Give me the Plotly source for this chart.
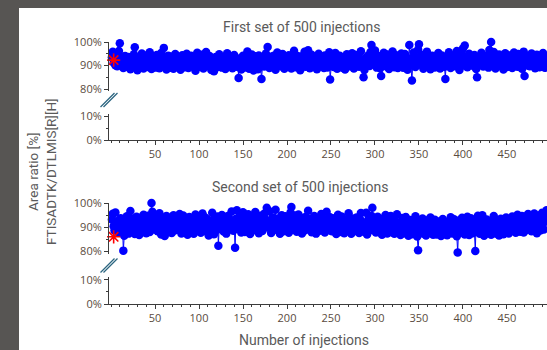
import plotly.graph_objects as go

# ---------------- data ----------------
injections = list(range(1, 501))

first_set = [
    93.5, 95.8, 91.2, 94.6, 90.1, 92.8, 89.7, 93.9, 96.2, 99.5, 91.4, 90.6, 93.1, 88.9, 92.5, 94.0, 90.8, 89.5, 91.9, 93.6, 90.2, 88.4, 92.7, 91.1, 89.9,
    94.8, 97.8, 92.3, 90.5, 88.0, 91.7, 93.4, 89.2, 90.9, 95.1, 92.0, 88.7, 91.5, 94.3, 90.0, 92.9, 89.4, 91.3, 95.6, 90.7, 88.5, 92.2, 93.8, 90.3, 89.1,
    91.8, 94.5, 90.4, 92.6, 88.8, 93.2, 95.3, 91.0, 89.6, 97.5, 92.4, 90.2, 88.3, 91.6, 94.2, 90.9, 92.1, 89.0, 93.7, 91.3, 88.6, 90.5, 94.9, 92.8, 89.8,
    91.2, 93.5, 90.6, 88.2, 92.0, 94.4, 90.1, 91.7, 89.3, 93.0, 95.0, 91.4, 88.9, 90.8, 92.5, 94.1, 89.7, 91.0, 93.3, 90.4, 87.8, 92.3, 95.4, 91.1, 89.5,
    92.7, 90.3, 94.6, 91.5, 88.7, 90.0, 93.1, 95.7, 92.2, 89.9, 91.3, 94.0, 90.7, 88.1, 92.9, 91.8, 87.6, 90.5, 93.6, 92.1, 89.4, 91.0, 94.8, 90.6, 92.4,
    89.1, 91.9, 93.4, 90.2, 88.5, 92.6, 95.2, 91.2, 89.8, 90.9, 93.8, 92.0, 88.8, 91.4, 94.5, 90.1, 92.8, 89.5, 91.7, 84.7, 93.0, 90.4, 88.3, 92.3, 94.1,
    91.6, 89.2, 90.8, 93.5, 96.0, 92.5, 88.6, 90.3, 91.9, 94.7, 89.9, 87.9, 92.2, 93.9, 90.6, 91.1, 88.4, 94.3, 92.7, 90.0, 84.3, 91.5, 93.2, 89.6, 92.9,
    95.1, 90.7, 97.9, 91.3, 88.9, 93.7, 92.1, 89.4, 90.5, 94.2, 91.8, 88.2, 92.4, 95.5, 90.2, 91.0, 93.3, 89.7, 92.6, 94.9, 90.8, 88.6, 91.6, 93.1, 89.8,
    92.0, 94.4, 90.4, 91.9, 88.7, 93.6, 92.3, 96.3, 90.1, 89.3, 91.4, 94.0, 92.8, 90.6, 88.0, 91.7, 93.9, 90.9, 92.2, 95.8, 89.5, 91.2, 93.5, 96.5, 90.3,
    88.8, 92.5, 94.6, 91.1, 89.9, 90.7, 93.0, 92.1, 88.4, 91.5, 95.0, 90.0, 92.7, 89.6, 93.8, 91.3, 88.9, 94.3, 90.5, 92.0, 89.2, 91.8, 95.6, 84.0, 90.2,
    92.9, 91.0, 89.4, 93.4, 95.3, 90.8, 88.6, 92.3, 91.6, 94.1, 90.1, 92.6, 89.0, 93.2, 91.9, 88.3, 90.6, 94.8, 92.4, 91.2, 89.7, 93.7, 90.4, 95.2, 91.4,
    88.7, 92.1, 94.5, 90.9, 91.7, 93.9, 89.5, 92.8, 96.1, 90.3, 91.1, 85.0, 88.1, 93.1, 92.5, 90.0, 94.2, 91.5, 89.8, 95.7, 98.7, 92.2, 90.7, 93.6, 96.4,
    91.3, 89.1, 92.7, 94.0, 90.5, 88.8, 85.5, 93.3, 91.8, 95.4, 90.2, 92.0, 89.6, 94.7, 91.0, 88.5, 92.9, 93.5, 90.8, 96.0, 91.6, 89.3, 92.4, 94.4, 90.1,
    88.9, 93.8, 91.2, 90.6, 95.1, 92.3, 89.0, 91.9, 94.9, 90.4, 92.6, 88.2, 91.4, 98.7, 93.0, 90.0, 83.6, 92.1, 95.5, 91.7, 89.4, 93.4, 90.9, 96.8, 99.0,
    92.8, 90.3, 94.6, 91.1, 88.6, 93.2, 92.0, 89.8, 95.9, 91.5, 90.7, 93.6, 88.4, 92.5, 94.1, 90.2, 91.8, 89.2, 93.9, 92.2, 90.5, 95.3, 91.0, 88.7, 92.7,
    94.3, 90.8, 91.6, 89.5, 84.3, 92.4, 93.7, 90.1, 95.6, 91.3, 88.9, 92.9, 94.0, 90.6, 91.9, 89.7, 93.1, 96.2, 92.0, 90.4, 88.1, 91.7, 94.8, 92.3, 97.2,
    90.0, 98.5, 93.5, 91.4, 89.3, 92.6, 95.0, 90.9, 91.2, 93.8, 89.9, 92.1, 94.5, 90.3, 88.5, 85.0, 91.8, 93.3, 90.7, 92.8, 95.4, 91.0, 89.6, 93.0, 90.2,
    92.5, 94.2, 91.5, 89.1, 96.6, 93.4, 100.0, 90.6, 92.2, 95.7, 91.1, 88.7, 93.9, 90.4, 92.0, 94.7, 89.8, 91.6, 93.2, 90.1, 88.3, 92.7, 95.2, 91.3, 89.4,
    93.6, 91.9, 90.5, 94.4, 92.4, 88.9, 91.0, 95.5, 90.8, 93.1, 92.3, 89.5, 94.9, 91.7, 90.2, 93.7, 88.6, 92.9, 95.9, 85.5, 91.4, 93.0, 90.0, 94.1, 92.6,
    89.7, 91.2, 95.1, 90.4, 92.8, 93.8, 88.8, 91.5, 94.6, 90.9, 92.1, 89.3, 93.4, 91.8, 90.6, 95.3, 92.0, 89.0, 93.5, 91.1, 90.3, 94.0, 92.4, 89.9, 91.6,
]

second_set = [
    93.2, 95.6, 90.4, 88.7, 96.1, 91.8, 89.5, 92.6, 87.9, 90.9, 93.7, 88.3, 91.2, 80.4, 86.5, 92.0, 89.8, 94.5, 90.6, 87.4, 92.9, 96.7, 91.3, 88.9, 93.6,
    90.1, 87.2, 91.7, 94.3, 89.4, 92.4, 86.8, 90.7, 93.9, 88.5, 91.0, 95.2, 89.9, 92.8, 87.6, 90.3, 94.8, 91.5, 88.1, 92.2, 100.0, 96.4, 90.8, 93.5, 89.1,
    94.1, 91.6, 88.4, 92.7, 95.8, 90.2, 87.0, 91.9, 93.3, 89.6, 86.4, 92.1, 94.6, 90.5, 88.0, 91.4, 93.8, 89.2, 87.7, 92.5, 95.0, 90.0, 88.8, 91.1, 93.0,
    89.3, 92.3, 95.5, 90.9, 87.5, 93.1, 94.9, 91.7, 88.6, 90.4, 92.9, 86.9, 89.7, 94.2, 91.2, 88.2, 93.6, 90.6, 87.3, 92.0, 95.3, 89.9, 91.5, 88.7, 93.4,
    90.8, 87.8, 92.7, 95.7, 89.0, 91.3, 94.0, 88.4, 90.2, 93.2, 86.6, 91.9, 89.5, 92.4, 96.0, 90.1, 87.1, 93.7, 91.0, 88.9, 94.4, 82.4, 90.7, 92.6, 89.4,
    95.1, 91.6, 88.3, 93.0, 90.3, 87.4, 92.1, 94.7, 90.0, 89.2, 91.8, 96.5, 92.8, 88.6, 90.9, 81.6, 93.5, 97.0, 91.4, 89.8, 94.1, 90.5, 87.9, 92.3, 96.2,
    91.1, 88.1, 93.9, 90.6, 92.5, 95.4, 89.3, 87.2, 91.7, 94.3, 90.4, 88.8, 92.9, 96.3, 91.2, 89.6, 93.3, 87.6, 90.1, 94.8, 92.2, 88.5, 91.0, 95.6, 90.7,
    93.1, 98.0, 89.9, 92.0, 96.6, 90.3, 87.7, 91.5, 94.0, 88.9, 92.7, 97.2, 90.8, 89.1, 93.6, 91.9, 87.3, 90.2, 95.0, 92.4, 88.4, 91.3, 94.5, 89.7, 92.6,
    90.5, 87.8, 93.2, 96.1, 98.4, 91.6, 89.0, 92.3, 94.9, 90.0, 88.2, 91.8, 95.3, 89.4, 92.8, 90.9, 87.5, 93.8, 91.1, 88.7, 94.2, 90.4, 92.1, 96.8, 89.2,
    91.4, 93.5, 88.0, 90.6, 92.9, 94.6, 89.8, 87.4, 91.2, 93.0, 90.1, 88.6, 92.5, 95.5, 91.0, 89.3, 93.4, 87.9, 90.7, 96.4, 92.2, 88.9, 91.7, 94.1, 90.3,
    88.4, 92.6, 90.0, 93.7, 89.5, 87.2, 91.9, 95.2, 90.8, 88.1, 92.0, 94.4, 89.7, 91.3, 87.6, 93.1, 90.4, 88.8, 92.4, 95.8, 91.1, 89.0, 87.3, 93.6, 90.5,
    92.8, 88.5, 90.9, 94.0, 89.2, 91.6, 87.7, 93.3, 95.9, 90.2, 88.3, 92.1, 89.9, 91.5, 96.0, 87.0, 90.6, 93.9, 88.7, 91.8, 94.7, 98.0, 89.4, 92.2, 90.0,
    87.9, 91.3, 94.3, 89.6, 88.2, 92.7, 90.3, 86.9, 93.5, 91.0, 88.6, 95.1, 90.1, 87.5, 92.4, 89.8, 91.7, 94.6, 88.0, 90.5, 93.2, 87.3, 89.1, 92.0, 95.4,
    90.7, 88.4, 91.9, 86.8, 89.5, 93.8, 90.2, 87.6, 92.3, 94.2, 88.9, 90.8, 86.5, 91.4, 93.0, 89.3, 87.1, 92.6, 90.0, 88.1, 94.5, 91.2, 86.2, 80.6, 89.7,
    92.1, 88.7, 90.4, 93.6, 87.4, 89.9, 91.6, 86.6, 88.3, 92.9, 90.6, 87.8, 94.0, 89.2, 91.0, 86.9, 88.5, 93.1, 90.3, 87.0, 89.6, 92.4, 91.5, 88.0, 86.4,
    90.9, 93.4, 88.8, 87.2, 91.8, 89.4, 86.7, 92.2, 90.1, 88.2, 94.1, 89.0, 87.5, 91.3, 93.3, 88.6, 90.5, 86.3, 79.6, 89.8, 92.8, 87.9, 90.2, 93.9, 88.4,
    91.1, 87.0, 89.3, 92.5, 94.3, 88.9, 86.8, 90.7, 93.7, 89.1, 87.6, 91.9, 88.3, 80.2, 92.0, 89.5, 94.8, 90.4, 87.3, 88.7, 92.7, 95.0, 90.0, 86.5, 91.4,
    89.2, 93.2, 87.7, 90.8, 88.1, 92.3, 86.9, 89.7, 91.6, 94.6, 88.5, 90.3, 87.4, 92.9, 89.9, 86.6, 91.2, 93.5, 88.0, 90.6, 87.1, 89.4, 92.1, 94.0, 88.8,
    90.1, 87.5, 92.6, 89.0, 91.7, 94.4, 88.6, 90.9, 93.0, 87.8, 91.3, 95.2, 89.6, 92.0, 88.2, 90.4, 94.7, 91.1, 87.9, 93.4, 90.7, 88.9, 92.8, 95.5, 89.3,
    91.9, 94.2, 88.4, 90.2, 93.8, 95.7, 89.8, 92.4, 87.6, 91.0, 94.9, 90.5, 88.7, 93.1, 96.0, 91.5, 89.1, 92.7, 95.3, 97.0, 90.8, 93.6, 89.5, 92.2, 94.1,
]

ref_x = [3]
ref_first = [92.3]
ref_second = [86.1]

upper_ticks = [80, 90, 100]
lower_ticks = [0, 10]
x_ticks = [50, 100, 150, 200, 250, 300, 350, 400, 450]

titles = ["First set of 500 injections", "Second set of 500 injections"]
x_title = "Number of injections"
y_title = "Area ratio [%]<br>FTISADTK/DTLMIS[R][H]"

# ---------------- style ----------------
W, H = 547, 350
ML = 109
PW = W - ML
BLUE = "#0000FF"
AXC = "#3c3c3c"
TICKC = "#5a4b40"
TXTC = "#5a5a5a"
TICKFONT = dict(family="Open Sans", size=11, color=TICKC)


def px_x(p):
    return (p - ML) / PW


def px_y(p):
    return 1 - p / H


fig = go.Figure()

# empty traces so that the lower (0-10 %) axis segments become real subplots
for xa, ya in [("x", "y"), ("x2", "y3")]:
    fig.add_trace(go.Scatter(x=[], y=[], xaxis=xa, yaxis=ya, mode="markers",
                             showlegend=False, hoverinfo="skip"))

for vals, ref, xa, ya in [(first_set, ref_first, "x", "y2"), (second_set, ref_second, "x2", "y4")]:
    fig.add_trace(go.Scatter(
        x=injections, y=vals, xaxis=xa, yaxis=ya, mode="lines+markers",
        line=dict(color=BLUE, width=1),
        marker=dict(color=BLUE, size=8.5, line=dict(width=0)),
        cliponaxis=False, showlegend=False, hoverinfo="skip"))
    fig.add_trace(go.Scatter(
        x=ref_x, y=ref, xaxis=xa, yaxis=ya, mode="markers",
        marker=dict(symbol="asterisk-open", size=11, color="#ff0000",
                    line=dict(color="#ff0000", width=1.6)),
        cliponaxis=False, showlegend=False, hoverinfo="skip"))

xcommon = dict(range=[-2.3, 495.5], tickmode="array", tickvals=x_ticks, ticks="outside",
               ticklen=4, tickcolor=AXC, showline=True, linecolor=AXC, linewidth=1,
               showgrid=False, zeroline=False, tickfont=TICKFONT, automargin=False,
               minor=dict(dtick=10, tick0=0, ticks="outside", ticklen=2, tickcolor=AXC))


def ycommon(rng, ticks, dom, anchor):
    return dict(range=rng, domain=dom, anchor=anchor, tickmode="array", tickvals=ticks,
                ticktext=[f"{t}%" for t in ticks], ticks="outside", ticklen=4, tickcolor=AXC,
                showline=True, linecolor=AXC, linewidth=1, showgrid=False, zeroline=False,
                tickfont=TICKFONT, automargin=False,
                minor=dict(dtick=5, tick0=0, ticks="outside", ticklen=2, tickcolor=AXC))


fig.update_layout(
    width=W, height=H,
    margin=dict(l=ML, r=0, t=0, b=0, pad=0),
    paper_bgcolor="#575553", plot_bgcolor="white",
    xaxis=dict(domain=[0, 1], anchor="y", **xcommon),
    xaxis2=dict(domain=[0, 1], anchor="y3", **xcommon),
    yaxis=ycommon([0, 11], lower_ticks, [px_y(140), px_y(140 - 11 * 2.35)], "x"),
    yaxis2=ycommon([79, 100], upper_ticks, [px_y(42 + 21 * 2.35), px_y(42)], "x"),
    yaxis3=ycommon([0, 11], lower_ticks, [px_y(304), px_y(304 - 11 * 2.43)], "x2"),
    yaxis4=ycommon([79, 100], upper_ticks, [px_y(203 + 21 * 2.43), px_y(203)], "x2"),
    showlegend=False,
)

shapes = [dict(type="rect", xref="paper", yref="paper", x0=px_x(19), x1=1.05,
               y0=-0.05, y1=px_y(8), fillcolor="white", line=dict(width=0), layer="below")]
for cy in (100, 265.5):
    for dx in (-1.5, 1.5):
        shapes.append(dict(type="line", xref="paper", yref="paper",
                           x0=px_x(102 + dx), y0=px_y(cy + 7), x1=px_x(116 + dx), y1=px_y(cy - 7),
                           line=dict(color="#2b6580", width=1.2)))
fig.update_layout(shapes=shapes)

ann = []
for t, (cx, cy) in zip(titles, [(301, 27), (300, 187)]):
    ann.append(dict(text=t, x=px_x(cx), y=px_y(cy), xref="paper", yref="paper",
                    showarrow=False, xanchor="center", yanchor="middle",
                    font=dict(family="Roboto", size=14, color=TXTC)))
ann.append(dict(text=x_title, x=px_x(304), y=px_y(340), xref="paper", yref="paper",
                showarrow=False, xanchor="center", yanchor="middle",
                font=dict(family="Roboto", size=14, color=TXTC)))
ann.append(dict(text=y_title, x=px_x(42), y=px_y(172), xref="paper", yref="paper",
                showarrow=False, xanchor="center", yanchor="middle", textangle=-90,
                font=dict(family="Roboto", size=13.5, color=TXTC)))
fig.update_layout(annotations=ann)

fig.write_html(
    "out.html",
    config={"displayModeBar": False},
    post_script="document.body.style.margin='0';document.body.style.overflow='hidden';",
)
